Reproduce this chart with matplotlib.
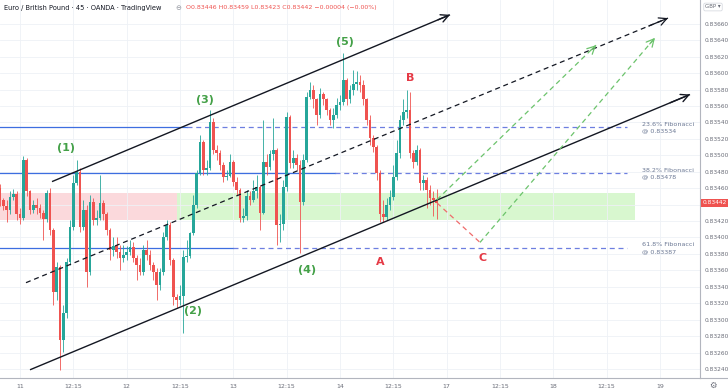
import numpy as np
import matplotlib
matplotlib.use("Agg")
import matplotlib.pyplot as plt

# ---------------- data (prices in points, 1e-5) ----------------
first_open = 83460
closes = [83446, 83438, 83434, 83449, 83453, 83429, 83424, 83494, 83456, 83434,
          83440, 83436, 83430, 83423, 83454, 83409,
          83334, 83364, 83275, 83308, 83370, 83413, 83466, 83480, 83413, 83434,
          83358, 83443, 83421, 83424, 83442, 83428, 83409, 83385,
          83390, 83382, 83375, 83379, 83382, 83389,
          83375, 83367, 83358, 83385, 83379, 83367, 83358, 83342, 83358, 83400,
          83415, 83373, 83327, 83324, 83329, 83376, 83378, 83406, 83440, 83479,
          83516, 83482, 83485, 83541, 83507, 83503, 83488, 83474, 83475, 83492,
          83468, 83458, 83424, 83426, 83451, 83446, 83456, 83462, 83430, 83492,
          83486, 83501, 83507, 83415, 83417, 83462, 83547, 83491, 83497, 83488,
          83443, 83494, 83571, 83580, 83568, 83549, 83574, 83568, 83555, 83543,
          83549, 83561, 83565, 83592, 83568, 83580, 83587, 83589, 83585, 83568,
          83543, 83521, 83510, 83479, 83428, 83425, 83440, 83449, 83474, 83503,
          83543, 83553, 83555, 83503, 83492, 83507, 83466, 83470, 83458, 83448,
          83446, 83442]
highs = [83465, 83448, 83446, 83456, 83459, 83456, 83436, 83499, 83497, 83458,
         83446, 83448, 83441, 83434, 83458, 83460,
         83412, 83370, 83367, 83318, 83375, 83421, 83476, 83494, 83485, 83446,
         83440, 83452, 83448, 83434, 83476, 83446, 83431, 83412,
         83400, 83400, 83391, 83391, 83390, 83397,
         83394, 83379, 83375, 83391, 83397, 83385, 83370, 83363, 83363, 83407,
         83421, 83419, 83375, 83331, 83342, 83385, 83397, 83407, 83452, 83482,
         83525, 83519, 83494, 83555, 83546, 83513, 83507, 83492, 83482, 83501,
         83494, 83473, 83460, 83436, 83458, 83456, 83470, 83476, 83464, 83543,
         83501, 83507, 83546, 83509, 83428, 83470, 83553, 83549, 83507, 83501,
         83494, 83501, 83577, 83589, 83586, 83570, 83582, 83577, 83570, 83558,
         83558, 83570, 83574, 83625, 83594, 83586, 83604, 83602, 83598, 83592,
         83570, 83549, 83525, 83513, 83482, 83446, 83448, 83458, 83488, 83519,
         83549, 83568, 83580, 83577, 83507, 83513, 83509, 83476, 83474, 83464,
         83456, 83459]
lows = [83438, 83434, 83419, 83429, 83446, 83421, 83417, 83421, 83451, 83429,
        83430, 83428, 83424, 83397, 83419, 83403,
        83318, 83324, 83239, 83261, 83302, 83367, 83409, 83464, 83407, 83409,
        83340, 83354, 83415, 83415, 83421, 83421, 83403, 83373,
        83378, 83375, 83361, 83370, 83373, 83379,
        83370, 83348, 83354, 83354, 83373, 83361, 83348, 83324, 83336, 83354,
        83397, 83367, 83318, 83314, 83318, 83284, 83370, 83375, 83403, 83436,
        83476, 83476, 83476, 83482, 83501, 83494, 83482, 83468, 83470, 83473,
        83463, 83452, 83419, 83419, 83421, 83440, 83443, 83448, 83409, 83428,
        83476, 83482, 83494, 83391, 83394, 83409, 83456, 83485, 83485, 83482,
        83381, 83440, 83492, 83568, 83558, 83537, 83546, 83561, 83549, 83537,
        83533, 83546, 83555, 83561, 83561, 83564, 83574, 83580, 83577, 83561,
        83537, 83513, 83504, 83470, 83419, 83419, 83421, 83434, 83446, 83470,
        83497, 83537, 83546, 83497, 83485, 83488, 83458, 83458, 83436, 83440,
        83426, 83423]

# time axis (bar index) tick positions and labels
time_ticks = [0, 16, 32, 48, 64, 80, 96, 112, 128, 144, 160, 176, 192]
time_labels = ["11", "12:15", "12", "12:15", "13", "12:15", "14", "12:15",
               "17", "12:15", "18", "12:15", "19"]
price_ticks = [0.83240, 0.83260, 0.83280, 0.83300, 0.83320, 0.83340, 0.83360,
               0.83380, 0.83400, 0.83420, 0.83440, 0.83460, 0.83480, 0.83500,
               0.83520, 0.83540, 0.83560, 0.83580, 0.83600, 0.83620, 0.83640,
               0.83660]

# Fibonacci levels
fib_names = ["23.6% Fibonacci", "38.2% Fibonacci", "61.8% Fibonacci"]
fib_levels = [0.83534, 0.83478, 0.83387]
fib_solid_end = [50, 94.5, 64]   # bar where the solid segment becomes dashed
fib_end = 182

# zones
zone_low, zone_high = 0.83421, 0.83454
red_zone = (-6, 47)
green_zone = (47, 184.5)

# channel lines (bar, price)
upper_ch = [(9.6, 0.83468), (129.0, 0.83671)]
lower_ch = [(3.0, 0.83239), (201.0, 0.83574)]
mid_ch = [(1.8, 0.83345), (194.4, 0.83667)]

# projections
proj_red = [(125.1, 0.83442), (138.0, 0.83394)]
proj_g1 = [(125.1, 0.83446), (172.8, 0.83634)]
proj_g2 = [(138.0, 0.83394), (190.5, 0.83643)]

wave_labels = ["(1)", "(2)", "(3)", "(4)", "(5)"]
wave_pos = [(13.8, 0.83509), (51.9, 0.83310), (55.5, 0.83567), (86.1, 0.83361), (97.5, 0.83638)]
abc_labels = ["A", "B", "C"]
abc_pos = [(108.0, 0.83370), (117.0, 0.83594), (138.9, 0.83375)]

# ---------------- build ----------------
c = np.array(closes) / 1e5
h = np.array(highs) / 1e5
l = np.array(lows) / 1e5
o = np.concatenate([[first_open / 1e5], c[:-1]])
n = len(c)
x = np.arange(n) - 6

UP = "#26a69a"
DN = "#ef5350"

fig = plt.figure(figsize=(7.28, 3.91), dpi=100)
ax = fig.add_axes([0, 13 / 391, 700 / 728, 378 / 391])
ax.set_xlim(-6, 204)
ax.set_ylim(0.83229, 0.83689)

# grid
ax.set_yticks(price_ticks)
ax.set_xticks(time_ticks)
ax.grid(True, color="#eef1f6", linewidth=0.6, zorder=0)

# zones
ax.fill_between(red_zone, zone_low, zone_high, color="#fbd9dc", lw=0, zorder=1)
ax.fill_between(green_zone, zone_low, zone_high, color="#d8f7cf", lw=0, zorder=1)

# fib lines
for lev, se, name in zip(fib_levels, fib_solid_end, fib_names):
    ax.plot([-6, se], [lev, lev], color="#3d6ee0", lw=0.9, zorder=2)
    ax.plot([se, fib_end], [lev, lev], color="#6d7fe0", lw=0.9, ls=(0, (4, 3)), zorder=2)
    ax.text(186.6, lev + 0.00004, name, fontsize=4.6, color="#6b7894", va="center", ha="left", zorder=5)
    ax.text(186.6, lev - 0.000045, "@ %.5f" % lev, fontsize=4.6, color="#6b7894", va="center", ha="left", zorder=5)

# candles
up = c >= o
colors = np.where(up, UP, DN)
ax.vlines(x, l, h, colors=colors, lw=0.6, zorder=3)
body_lo = np.minimum(o, c)
body_h = np.maximum(np.abs(c - o), 0.000012)
ax.bar(x, body_h, bottom=body_lo, width=0.72, color=colors, lw=0, zorder=4)


def arrow_line(p0, p1, color, ls="-", lw=1.0):
    ax.plot([p0[0], p1[0]], [p0[1], p1[1]], color=color, lw=lw, ls=ls, zorder=5,
            solid_capstyle="butt")
    t = 0.97
    q = (p0[0] + (p1[0] - p0[0]) * t, p0[1] + (p1[1] - p0[1]) * t)
    ax.annotate("", xy=p1, xytext=q,
                arrowprops=dict(arrowstyle="->,head_length=0.55,head_width=0.28",
                                color=color, lw=lw, shrinkA=0, shrinkB=0), zorder=6)


arrow_line(upper_ch[0], upper_ch[1], "#131722", lw=1.0)
arrow_line(lower_ch[0], lower_ch[1], "#131722", lw=1.0)
arrow_line(mid_ch[0], mid_ch[1], "#131722", ls=(0, (4, 3)), lw=0.9)
ax.plot([proj_red[0][0], proj_red[1][0]], [proj_red[0][1], proj_red[1][1]],
        color="#ef6b6b", lw=0.9, ls=(0, (4, 3)), zorder=5)
arrow_line(proj_g1[0], proj_g1[1], "#6cc36c", ls=(0, (4, 3)), lw=0.9)
arrow_line(proj_g2[0], proj_g2[1], "#6cc36c", ls=(0, (4, 3)), lw=0.9)

for lab, (px, py) in zip(wave_labels, wave_pos):
    ax.text(px, py, lab, color="#43a047", fontsize=8, fontweight="bold", ha="center", va="center", zorder=7)
for lab, (px, py) in zip(abc_labels, abc_pos):
    ax.text(px, py, lab, color="#e53945", fontsize=8, fontweight="bold", ha="center", va="center", zorder=7)

# axes styling
for s in ["top", "left"]:
    ax.spines[s].set_visible(False)
ax.spines["right"].set_color("#b2b5be")
ax.spines["right"].set_linewidth(0.8)
ax.spines["bottom"].set_color("#b2b5be")
ax.spines["bottom"].set_linewidth(0.8)
ax.yaxis.tick_right()
last = c[-1]
ylabels = ["" if abs(v - last) < 0.0001 else "%.5f" % v for v in price_ticks]
ax.set_yticklabels(ylabels)
ax.set_xticklabels(time_labels)
ax.tick_params(axis="y", length=0, pad=3.5, labelsize=4.2, labelcolor="#6a6d78")
ax.tick_params(axis="x", length=0, pad=4, labelsize=4.5, labelcolor="#6a6d78")

# header
fig.text(4 / 728, 1 - 8 / 391, "Euro / British Pound · 45 · OANDA · TradingView",
         fontsize=4.8, color="#131722", va="center", ha="left")
fig.text(178 / 728, 1 - 8 / 391, "⊖", fontsize=5, color="#9598a1", va="center", ha="center")
fig.text(186 / 728, 1 - 8 / 391, "O0.83446 H0.83459 L0.83423 C0.83442 −0.00004 (−0.00%)",
         fontsize=4.5, color="#ef5350", va="center", ha="left")

# price tag
ax.annotate("%.5f" % last, xy=(1.0, last), xycoords=("axes fraction", "data"),
            xytext=(1.8, 0), textcoords="offset points", fontsize=4.2, color="white",
            va="center", ha="left", annotation_clip=False,
            bbox=dict(boxstyle="square,pad=0.3", fc="#ef5350", ec="none"), zorder=10)

# currency box and gear
fig.text(713 / 728, 1 - 7 / 391, "GBP ▾", fontsize=4, color="#6a6d78", va="center", ha="center",
         bbox=dict(boxstyle="round,pad=0.25", fc="white", ec="#d1d4dc", lw=0.5))
fig.text(713 / 728, 6 / 391, "⚙", fontsize=6, color="#6a6d78", va="center", ha="center")
fig.add_artist(plt.Line2D([700 / 728, 1], [13 / 391, 13 / 391], color="#b2b5be", lw=0.8))

fig.savefig("out.png", dpi=100)
